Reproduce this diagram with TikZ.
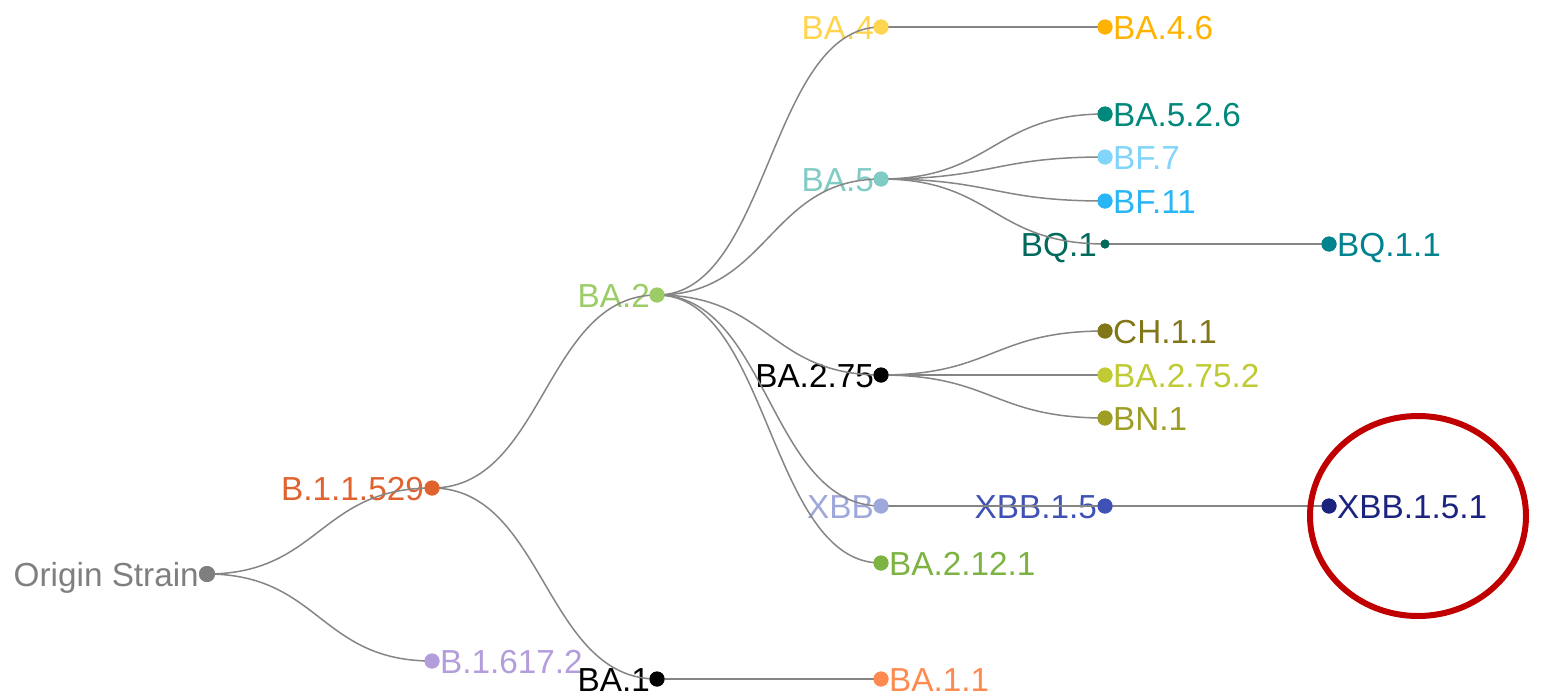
\documentclass[tikz,border=0pt]{standalone}
\usepackage{fontspec}
\setmainfont{Liberation Sans}
\usetikzlibrary{calc,shapes.geometric}

\definecolor{cOrigin}{HTML}{7F7F7F}
\definecolor{cBxxv}{HTML}{E0622F}
\definecolor{cBdelta}{HTML}{B39DDB}
\definecolor{cBAoneone}{HTML}{FF8A50}
\definecolor{cBAtwo}{HTML}{9CCC65}
\definecolor{cBAfour}{HTML}{FFD54F}
\definecolor{cBAfoursix}{HTML}{FFB300}
\definecolor{cBAfive}{HTML}{80CBC4}
\definecolor{cBAfivetwosix}{HTML}{00897B}
\definecolor{cBFseven}{HTML}{81D4FA}
\definecolor{cBFeleven}{HTML}{29B6F6}
\definecolor{cBQone}{HTML}{00695C}
\definecolor{cBQoneone}{HTML}{00838F}
\definecolor{cCH}{HTML}{827717}
\definecolor{cBAtwoseventyfivetwo}{HTML}{C0CA33}
\definecolor{cBN}{HTML}{9E9D24}
\definecolor{cXBB}{HTML}{9FA8DA}
\definecolor{cXBBonefive}{HTML}{3F51B5}
\definecolor{cXBBonefiveone}{HTML}{1A237E}
\definecolor{cBAtwotwelve}{HTML}{7CB342}
\definecolor{cLink}{HTML}{858585}
\definecolor{cMark}{HTML}{C00000}

\tikzset{
  dot/.style={circle, inner sep=0pt, minimum size=15pt, fill=#1},
  smalldot/.style={circle, inner sep=0pt, minimum size=9pt, fill=#1},
  lblL/.style={inner sep=0pt, anchor=base east, text=#1,
               font=\fontsize{33.3}{36}\selectfont},
  lblR/.style={inner sep=0pt, anchor=base west, text=#1,
               font=\fontsize{33.3}{36}\selectfont},
  link/.style={draw=cLink, line width=1.5pt},
}

% horizontal-tangent tree link between two named dots
\newcommand\treelink[2]{%
  \draw[link] let \p1=(#1.center), \p2=(#2.center) in
    (#1.center) .. controls ({(\x1+\x2)/2},\y1) and ({(\x1+\x2)/2},\y2) .. (#2.center);}

\begin{document}
\begin{tikzpicture}[x=1pt, y=-1pt]
\useasboundingbox (0,0) rectangle (1542,694);

% dots
\node[dot=cOrigin, minimum size=16pt] (origin) at (207,574) {};
\node[dot=cBxxv] (bxxv) at (432,488) {};
\node[dot=cBdelta] (bdelta) at (432,661) {};
\node[dot=black] (baone) at (657,679) {};
\node[dot=cBAoneone] (baoneone) at (881,679) {};
\node[dot=cBAtwo] (batwo) at (657,295) {};
\node[dot=cBAfour] (bafour) at (881,27) {};
\node[dot=cBAfoursix] (bafoursix) at (1105,27) {};
\node[dot=cBAfive] (bafive) at (881,179) {};
\node[dot=cBAfivetwosix] (bafivetwosix) at (1105,114) {};
\node[dot=cBFseven] (bfseven) at (1105,157) {};
\node[dot=cBFeleven] (bfeleven) at (1105,201) {};
\node[smalldot=cBQone] (bqone) at (1105,244) {};
\node[dot=cBQoneone] (bqoneone) at (1329,244) {};
\node[dot=black] (batwoseventyfive) at (881,375) {};
\node[dot=cCH] (ch) at (1105,331) {};
\node[dot=cBAtwoseventyfivetwo] (batwoseventyfivetwo) at (1105,375) {};
\node[dot=cBN] (bn) at (1105,418) {};
\node[dot=cXBB] (xbb) at (881,506) {};
\node[dot=cXBBonefive] (xbbonefive) at (1105,506) {};
\node[dot=cXBBonefiveone] (xbbonefiveone) at (1329,506) {};
\node[dot=cBAtwotwelve] (batwotwelve) at (881,563) {};

% labels
\node[lblL=cOrigin] (tOrigin) at ($(origin)+(-8,12)$) {Origin Strain};
\node[lblL=cBxxv] (tBxxv) at ($(bxxv)+(-8,12)$) {B.1.1.529};
\node[lblR=cBdelta] (tBdelta) at ($(bdelta)+(8,12)$) {B.1.617.2};
\node[lblL=black] (tBAone) at ($(baone)+(-7,12)$) {BA.1};
\node[lblR=cBAoneone] (tBAoneone) at ($(baoneone)+(8,12)$) {BA.1.1};
\node[lblL=cBAtwo] (tBAtwo) at ($(batwo)+(-7,12)$) {BA.2};
\node[lblL=cBAfour] (tBAfour) at ($(bafour)+(-7,12)$) {BA.4};
\node[lblR=cBAfoursix] (tBAfoursix) at ($(bafoursix)+(8,12)$) {BA.4.6};
\node[lblL=cBAfive] (tBAfive) at ($(bafive)+(-7,12)$) {BA.5};
\node[lblR=cBAfivetwosix] (tBAfivetwosix) at ($(bafivetwosix)+(8,12)$) {BA.5.2.6};
\node[lblR=cBFseven] (tBFseven) at ($(bfseven)+(8,12)$) {BF.7};
\node[lblR=cBFeleven] (tBFeleven) at ($(bfeleven)+(8,12)$) {BF.11};
\node[lblL=cBQone] (tBQone) at ($(bqone)+(-8,12)$) {BQ.1};
\node[lblR=cBQoneone] (tBQoneone) at ($(bqoneone)+(8,12)$) {BQ.1.1};
\node[lblL=black] (tBAtwoseventyfive) at ($(batwoseventyfive)+(-7,12)$) {BA.2.75};
\node[lblR=cCH] (tCH) at ($(ch)+(8,12)$) {CH.1.1};
\node[lblR=cBAtwoseventyfivetwo] (tBAtwoseventyfivetwo) at ($(batwoseventyfivetwo)+(8,12)$) {BA.2.75.2};
\node[lblR=cBN] (tBN) at ($(bn)+(8,12)$) {BN.1};
\node[lblL=cXBB] (tXBB) at ($(xbb)+(-7,12)$) {XBB};
\node[lblL=cXBBonefive] (tXBBonefive) at ($(xbbonefive)+(-8,12)$) {XBB.1.5};
\node[lblR=cXBBonefiveone] (tXBBonefiveone) at ($(xbbonefiveone)+(8,12)$) {XBB.1.5.1};
\node[lblR=cBAtwotwelve] (tBAtwotwelve) at ($(batwotwelve)+(8,12)$) {BA.2.12.1};

% tree links
\treelink{origin}{bxxv}
\treelink{origin}{bdelta}
\treelink{bxxv}{batwo}
\treelink{bxxv}{baone}
\treelink{baone}{baoneone}
\treelink{batwo}{bafour}
\treelink{batwo}{bafive}
\treelink{batwo}{batwoseventyfive}
\treelink{batwo}{xbb}
\treelink{batwo}{batwotwelve}
\treelink{bafour}{bafoursix}
\treelink{bafive}{bafivetwosix}
\treelink{bafive}{bfseven}
\treelink{bafive}{bfeleven}
\treelink{bafive}{bqone}
\treelink{bqone}{bqoneone}
\treelink{batwoseventyfive}{ch}
\treelink{batwoseventyfive}{batwoseventyfivetwo}
\treelink{batwoseventyfive}{bn}
\treelink{xbb}{xbbonefive}
\treelink{xbbonefive}{xbbonefiveone}

% redraw dots on top of the links
\foreach \n/\c in {bxxv/cBxxv, bdelta/cBdelta, baone/black,
  baoneone/cBAoneone, batwo/cBAtwo, bafour/cBAfour, bafoursix/cBAfoursix,
  bafive/cBAfive, bafivetwosix/cBAfivetwosix, bfseven/cBFseven,
  bfeleven/cBFeleven, bqoneone/cBQoneone, batwoseventyfive/black, ch/cCH,
  batwoseventyfivetwo/cBAtwoseventyfivetwo, bn/cBN, xbb/cXBB,
  xbbonefive/cXBBonefive, xbbonefiveone/cXBBonefiveone,
  batwotwelve/cBAtwotwelve}
  \fill[\c] (\n.center) circle (7.5pt);
\fill[cOrigin] (origin.center) circle (8pt);
\fill[cBQone] (bqone.center) circle (4.5pt);

% highlight ring
\node[draw=cMark, line width=6pt, ellipse, minimum width=216pt,
      minimum height=200pt, inner sep=0pt] (ring) at (1418,516) {};
\end{tikzpicture}
\end{document}
